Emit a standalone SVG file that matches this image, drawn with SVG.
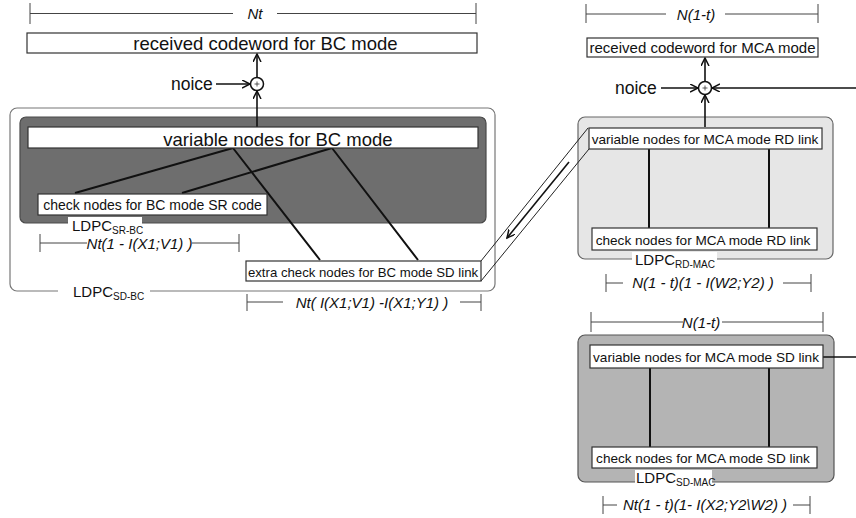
<svg xmlns="http://www.w3.org/2000/svg" width="856" height="518" viewBox="0 0 856 518">
<style>
text{font-family:"Liberation Sans",Arial,sans-serif;fill:#111}
.box{fill:#fff;stroke:#333;stroke-width:1.2}
.big{font-size:18.5px}
.mid{font-size:15px}
.sm{font-size:13.6px}
.it{font-size:15px;font-style:italic}
.dim{stroke:#444;stroke-width:1;fill:none}
.edge{stroke:#111;stroke-width:2;fill:none}
.thin{stroke:#222;stroke-width:1;fill:none}
.arr{stroke:#111;stroke-width:1.6;fill:none}
.lab{font-size:15px}
.sub{font-size:10px}
</style>
<defs>
<marker id="ah" markerWidth="10" markerHeight="10" refX="8" refY="4" orient="auto" markerUnits="userSpaceOnUse">
<path d="M0,0 L8,4 L0,8" fill="none" stroke="#111" stroke-width="1.5"/>
</marker>
</defs>
<rect width="856" height="518" fill="#fff"/>

<!-- containers -->
<g id="ldpc-sd-bc">
<rect x="10" y="108" width="485" height="183" rx="7" fill="#fff" stroke="#777" stroke-width="1.2"/>
<rect x="58" y="284" width="92" height="14" fill="#fff"/>
<text class="lab" x="73" y="297">LDPC<tspan class="sub" dy="3">SD-BC</tspan></text>
</g>
<g id="ldpc-sr-bc">
<rect x="20" y="117" width="466" height="106" rx="6" fill="#6e6e6e" stroke="#4a4a4a" stroke-width="1.2"/>
<rect x="68" y="217" width="74" height="17" fill="#fff"/>
<text class="lab" x="72" y="231">LDPC<tspan class="sub" dy="3">SR-BC</tspan></text>
</g>
<g id="ldpc-rd-mac">
<rect x="578" y="117" width="255" height="142" rx="7" fill="#e6e6e6" stroke="#666" stroke-width="1.2"/>
<rect x="632" y="252" width="85" height="15" fill="#fff"/>
<text class="lab" x="635" y="265">LDPC<tspan class="sub" dy="3">RD-MAC</tspan></text>
</g>
<g id="ldpc-sd-mac">
<rect x="578" y="335" width="256" height="147" rx="7" fill="#b4b4b4" stroke="#555" stroke-width="1.2"/>
<rect x="635" y="470" width="77" height="17" fill="#fff"/>
<text class="lab" x="636" y="483">LDPC<tspan class="sub" dy="3">SD-MAC</tspan></text>
</g>

<!-- dimension lines -->
<g id="dims">
<path class="dim" d="M30,3V24M30,13.5H233M277,13.5H476M476,3V24"/>
<text class="it" x="255" y="19" text-anchor="middle">Nt</text>
<path class="dim" d="M40,234V252M40,243H87M192,243H239M239,234V252"/>
<text class="it" x="139.5" y="248.5" text-anchor="middle">Nt(1 - I(X1;V1) )</text>
<path class="dim" d="M247,294V311M247,302H283M460,302H481M481,294V311"/>
<text class="it" x="372" y="307.5" text-anchor="middle">Nt( I(X1;V1) -I(X1;Y1) )</text>
<path class="dim" d="M586,4V23M586,14H666M725,14H818M818,4V23"/>
<text class="it" x="696" y="19.5" text-anchor="middle">N(1-t)</text>
<path class="dim" d="M606,274V292M606,283H623M783,283H811M811,274V292"/>
<text class="it" x="703" y="288" text-anchor="middle">N(1 - t)(1 - I(W2;Y2) )</text>
<path class="dim" d="M591,312V332M591,322H683M722,322H823M823,312V332"/>
<text class="it" x="701" y="327.5" text-anchor="middle">N(1-t)</text>
<path class="dim" d="M603,496V514M603,505H617M793,505H810M810,496V514"/>
<text class="it" x="705" y="510" text-anchor="middle">Nt(1 - t)(1- I(X2;Y2\W2) )</text>
</g>

<!-- connectors -->
<g id="connectors">
<path class="edge" d="M233,148L75,193M332,148L182,193M233,148L320,260M332,148L418,260"/>
<path class="edge" d="M649,149V228M769,149V228M650,368V447M769,368V447"/>
<path class="thin" d="M588,128L481,261M589,149L481,281"/>
<path class="arr" d="M569,162L507,238" stroke-width="1.2" marker-end="url(#ah)"/>
<path class="arr" d="M257,78V54" marker-end="url(#ah)"/>
<path class="arr" d="M257,127V91" marker-end="url(#ah)"/>
<path class="arr" d="M216,84H250" marker-end="url(#ah)"/>
<path class="arr" d="M705,82V58" marker-end="url(#ah)"/>
<path class="arr" d="M705,127V95" marker-end="url(#ah)"/>
<path class="arr" d="M661,88H698" marker-end="url(#ah)"/>
<path class="arr" d="M856,88H712" marker-end="url(#ah)"/>
<path class="arr" d="M823,357H856"/>
</g>

<!-- adders -->
<g id="adder-bc">
<circle cx="257" cy="84" r="6.5" fill="#fff" stroke="#111" stroke-width="1.5"/>
<path d="M254.5,84H259.5M257,81.5V86.5" stroke="#333" stroke-width="0.8"/>
</g>
<g id="adder-mca">
<circle cx="705" cy="88" r="6.5" fill="#fff" stroke="#111" stroke-width="1.5"/>
<path d="M702.5,88H707.5M705,85.5V90.5" stroke="#333" stroke-width="0.8"/>
</g>
<g id="noise-bc"><text x="171" y="90" style="font-size:17.5px">noice</text></g>
<g id="noise-mca"><text x="615" y="94" style="font-size:17.5px">noice</text></g>

<!-- nodes -->
<g id="rx-bc">
<rect class="box" x="27" y="33" width="450" height="20"/>
<text class="big" x="265.5" y="50" text-anchor="middle">received codeword for BC mode</text>
</g>
<g id="var-bc">
<rect class="box" x="28" y="127" width="450" height="21"/>
<text class="big" x="278" y="146" text-anchor="middle">variable nodes for BC mode</text>
</g>
<g id="chk-sr-bc">
<rect class="box" x="38" y="194" width="229" height="21"/>
<text style="font-size:14px" x="152.5" y="210" text-anchor="middle">check nodes for BC mode SR code</text>
</g>
<g id="chk-sd-bc">
<rect class="box" x="246" y="261" width="235" height="20"/>
<text style="font-size:13.2px" x="363" y="277" text-anchor="middle">extra check nodes for BC mode SD link</text>
</g>
<g id="rx-mca">
<rect class="box" x="587" y="38" width="231" height="19"/>
<text class="mid" x="702.5" y="53" text-anchor="middle">received codeword for MCA mode</text>
</g>
<g id="var-rd">
<rect class="box" x="589" y="128" width="233" height="21"/>
<text class="sm" x="705" y="144" text-anchor="middle">variable nodes for MCA mode RD link</text>
</g>
<g id="chk-rd">
<rect class="box" x="592" y="228" width="225" height="22"/>
<text class="sm" x="703" y="245" text-anchor="middle">check nodes for MCA mode RD link</text>
</g>
<g id="var-sd">
<rect class="box" x="590" y="345" width="233" height="23"/>
<text class="sm" x="706" y="362" text-anchor="middle">variable nodes for MCA mode SD link</text>
</g>
<g id="chk-sd">
<rect class="box" x="592" y="447" width="225" height="21"/>
<text class="sm" x="703" y="463" text-anchor="middle">check nodes for MCA mode SD link</text>
</g>
</svg>
